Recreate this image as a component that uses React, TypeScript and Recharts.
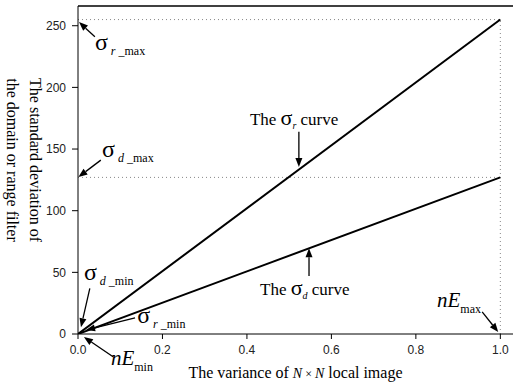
import React from 'react'
import {
  LineChart,
  Line,
  XAxis,
  YAxis,
  ReferenceLine,
  ReferenceDot,
  Label
} from 'recharts'

// values
const variance = [0, 1];
const sigmaR = [0, 255];
const sigmaD = [0, 127];
const xTicks = [0, 0.2, 0.4, 0.6, 0.8, 1.0];
const yTicks = [0, 50, 100, 150, 200, 250];
const sigmaRMax = 255;
const sigmaDMax = 127;
const nEMax = 1;

const data = variance.map((v, i) => ({ v, sr: sigmaR[i], sd: sigmaD[i] }));

const serif = '"Liberation Serif", "Times New Roman", serif';
const sans = '"Liberation Sans", Arial, sans-serif';

// text annotations, anchored in data units
const notes = [
  { id: 'srmax', x: 0.040, y: 230, kind: 'sigma', sub: 'r', tail: ' _max' },
  { id: 'sdmax', x: 0.057, y: 143.5, kind: 'sigma', sub: 'd', tail: ' _max' },
  { id: 'sdmin', x: 0.014, y: 44, kind: 'sigma', sub: 'd', tail: ' _min' },
  { id: 'srmin', x: 0.140, y: 9, kind: 'sigma', sub: 'r', tail: ' _min' },
  { id: 'nemin', x: 0.078, y: -25, kind: 'ne', sub: 'min', tail: '' },
  { id: 'nemax', x: 0.850, y: 22, kind: 'ne', sub: 'max', tail: '' },
  { id: 'rcurve', x: 0.407, y: 169.5, kind: 'curve', sub: 'r', tail: '' },
  { id: 'dcurve', x: 0.431, y: 31.5, kind: 'curve', sub: 'd', tail: '' }
];

// arrows: tail -> head, data units
const arrows = [
  { id: 'a1', from: [0.040, 241], to: [0.0024, 253] },
  { id: 'a2', from: [0.054, 141], to: [0.001, 127.3] },
  { id: 'a3', from: [0.028, 37], to: [0.007, 5.5] },
  { id: 'a4', from: [0.135, 13], to: [0.019, 3.2] },
  { id: 'a5', from: [0.083, -18.5], to: [0.014, -2.4] },
  { id: 'a6', from: [0.957, 18], to: [0.995, 1.6] },
  { id: 'a7', from: [0.523, 164], to: [0.523, 135.5] },
  { id: 'a8', from: [0.547, 47], to: [0.547, 69.5] }
];

function Arrow(props: any) {
  const { x1, y1, x2, y2 } = props;
  const ang = Math.atan2(y2 - y1, x2 - x1);
  const len = 9, half = 3.5;
  const bx = x2 - len * Math.cos(ang);
  const by = y2 - len * Math.sin(ang);
  const px = -Math.sin(ang) * half;
  const py = Math.cos(ang) * half;
  return (
    <g>
      <line x1={x1} y1={y1} x2={bx} y2={by} stroke="#000" strokeWidth={1.3} />
      <polygon points={`${x2},${y2} ${bx + px},${by + py} ${bx - px},${by - py}`} fill="#000" />
    </g>
  );
}

function NoteText(props: any) {
  const { cx, cy, note } = props;
  if (note.kind === 'sigma') {
    return (
      <text x={cx} y={cy} fontFamily={serif} fill="#000">
        <tspan fontSize={24}>σ</tspan>
        <tspan fontSize={12} fontStyle="italic" dx={3} dy={5}>{note.sub}</tspan>
        <tspan fontSize={12}>{note.tail}</tspan>
      </text>
    );
  }
  if (note.kind === 'ne') {
    return (
      <text x={cx} y={cy} fontFamily={serif} fill="#000">
        <tspan fontSize={21} fontStyle="italic">nE</tspan>
        <tspan fontSize={12} dy={6}>{note.sub}</tspan>
      </text>
    );
  }
  return (
    <text x={cx} y={cy} fontFamily={serif} fill="#000" fontSize={17}>
      <tspan>The </tspan>
      <tspan fontSize={22}>σ</tspan>
      <tspan fontSize={10} fontStyle="italic" dy={4}>{note.sub}</tspan>
      <tspan dy={-4}> curve</tspan>
    </text>
  );
}

function YTitle(props: any) {
  const { viewBox } = props;
  const cy = viewBox.y + viewBox.height / 2 - 10;
  return (
    <g fontFamily={serif} fontSize={16} fill="#000">
      <text x={35} y={cy} textAnchor="middle" dominantBaseline="central" transform={`rotate(90 35 ${cy})`}>
        The standard deviation of
      </text>
      <text x={12} y={cy} textAnchor="middle" dominantBaseline="central" transform={`rotate(90 12 ${cy})`}>
        the domain or range filter
      </text>
    </g>
  );
}

function XTitle(props: any) {
  const { viewBox } = props;
  const cx = viewBox.x + viewBox.width / 2;
  return (
    <text x={cx} y={viewBox.y + 44} textAnchor="middle" fontFamily={serif} fontSize={16} fill="#000">
      The variance of <tspan fontStyle="italic" fontSize={14}>N</tspan>
      <tspan fontSize={12}> × </tspan>
      <tspan fontStyle="italic" fontSize={14}>N</tspan> local image
    </text>
  );
}

export default function App() {
  const tickStyle = { fontFamily: sans, fontSize: 12, fill: '#222' };
  return (
    <div style={{ position: 'absolute', left: 0, top: 0, background: '#fff' }}>
      <LineChart width={513} height={384} data={data} margin={{ top: 6, right: 0, left: 0, bottom: 0 }}>
        <XAxis
          dataKey="v"
          type="number"
          domain={[0, 1.03]}
          allowDataOverflow
          ticks={xTicks}
          tickFormatter={(t) => t.toFixed(1)}
          tick={tickStyle}
          tickSize={5}
          tickMargin={6}
          height={50}
          stroke="#000"
        >
          <Label content={XTitle} />
        </XAxis>
        <YAxis
          type="number"
          domain={[0, 266]}
          allowDataOverflow
          ticks={yTicks}
          tick={tickStyle}
          tickSize={6}
          tickMargin={6}
          width={78}
          stroke="#000"
        >
          <Label content={YTitle} />
        </YAxis>

        <ReferenceLine y={266} stroke="#000" strokeWidth={1.5} ifOverflow="visible" />
        <ReferenceLine
          segment={[{ x: 0, y: sigmaRMax }, { x: nEMax, y: sigmaRMax }]}
          stroke="#888"
          strokeDasharray="1 3"
          ifOverflow="visible"
        />
        <ReferenceLine
          segment={[{ x: 0, y: sigmaDMax }, { x: nEMax, y: sigmaDMax }]}
          stroke="#888"
          strokeDasharray="1 3"
          ifOverflow="visible"
        />
        <ReferenceLine
          segment={[{ x: nEMax, y: 0 }, { x: nEMax, y: sigmaRMax }]}
          stroke="#888"
          strokeDasharray="1 3"
          ifOverflow="visible"
        />

        <Line dataKey="sr" stroke="#000" strokeWidth={2} dot={false} isAnimationActive={false} />
        <Line dataKey="sd" stroke="#000" strokeWidth={2} dot={false} isAnimationActive={false} />

        {arrows.map((a) => (
          <ReferenceLine
            key={a.id}
            segment={[{ x: a.from[0], y: a.from[1] }, { x: a.to[0], y: a.to[1] }]}
            ifOverflow="visible"
            shape={Arrow}
          />
        ))}
        {notes.map((n) => (
          <ReferenceDot
            key={n.id}
            x={n.x}
            y={n.y}
            r={0}
            ifOverflow="visible"
            shape={(p: any) => <NoteText cx={p.cx} cy={p.cy} note={n} />}
          />
        ))}
      </LineChart>
    </div>
  );
}
